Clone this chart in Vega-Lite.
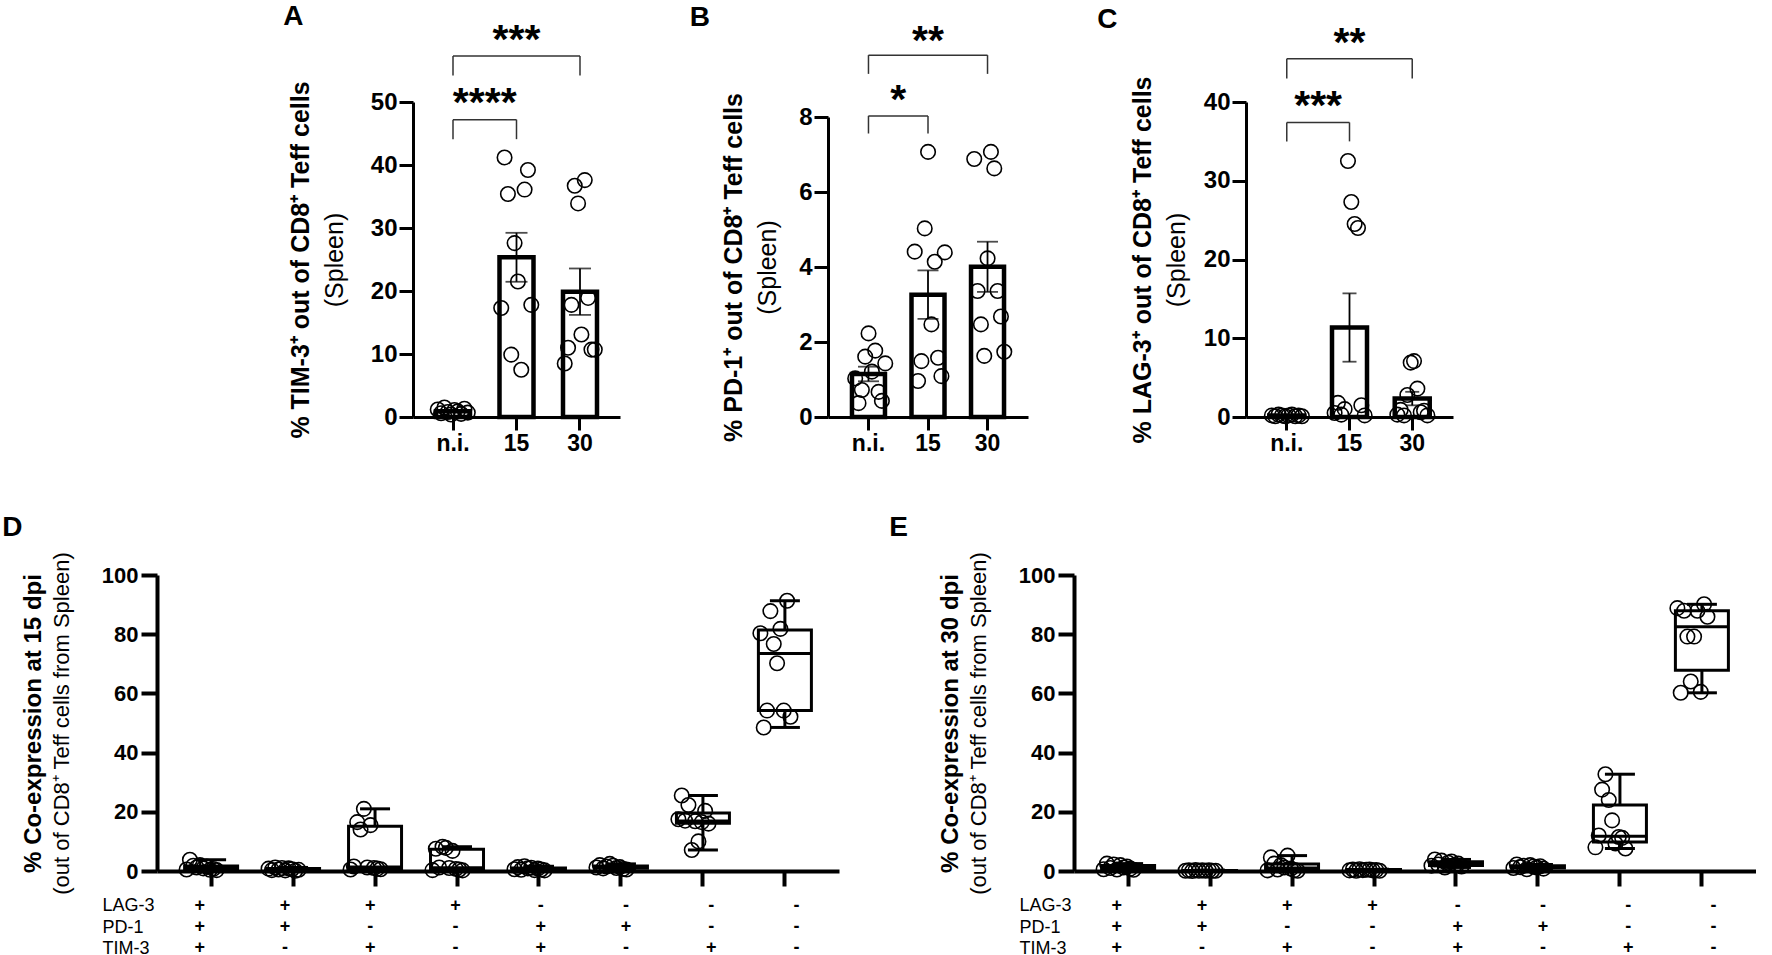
{
  "$schema": "https://vega.github.io/schema/vega-lite/v6.json",
  "background": "white",
  "padding": {"left": 2, "top": 2, "right": 0, "bottom": 0},
  "datasets": {
    "top": [
      {"panel": "A", "group": "n.i.", "mouse": 1, "value": 1.2},
      {"panel": "A", "group": "n.i.", "mouse": 2, "value": 0.6},
      {"panel": "A", "group": "n.i.", "mouse": 3, "value": 1.5},
      {"panel": "A", "group": "n.i.", "mouse": 4, "value": 0.8},
      {"panel": "A", "group": "n.i.", "mouse": 5, "value": 0.4},
      {"panel": "A", "group": "n.i.", "mouse": 6, "value": 1.1},
      {"panel": "A", "group": "n.i.", "mouse": 7, "value": 0.9},
      {"panel": "A", "group": "n.i.", "mouse": 8, "value": 0.5},
      {"panel": "A", "group": "n.i.", "mouse": 9, "value": 1.3},
      {"panel": "A", "group": "n.i.", "mouse": 10, "value": 0.7},
      {"panel": "A", "group": "15", "mouse": 1, "value": 17.3},
      {"panel": "A", "group": "15", "mouse": 2, "value": 41.2},
      {"panel": "A", "group": "15", "mouse": 3, "value": 35.4},
      {"panel": "A", "group": "15", "mouse": 4, "value": 9.9},
      {"panel": "A", "group": "15", "mouse": 5, "value": 27.6},
      {"panel": "A", "group": "15", "mouse": 6, "value": 21.5},
      {"panel": "A", "group": "15", "mouse": 7, "value": 7.5},
      {"panel": "A", "group": "15", "mouse": 8, "value": 36.1},
      {"panel": "A", "group": "15", "mouse": 9, "value": 39.2},
      {"panel": "A", "group": "15", "mouse": 10, "value": 17.8},
      {"panel": "A", "group": "30", "mouse": 1, "value": 8.5},
      {"panel": "A", "group": "30", "mouse": 2, "value": 11.0},
      {"panel": "A", "group": "30", "mouse": 3, "value": 17.8},
      {"panel": "A", "group": "30", "mouse": 4, "value": 36.7},
      {"panel": "A", "group": "30", "mouse": 5, "value": 33.9},
      {"panel": "A", "group": "30", "mouse": 6, "value": 13.1},
      {"panel": "A", "group": "30", "mouse": 7, "value": 37.6},
      {"panel": "A", "group": "30", "mouse": 8, "value": 18.9},
      {"panel": "A", "group": "30", "mouse": 9, "value": 10.7},
      {"panel": "A", "group": "30", "mouse": 10, "value": 10.7},
      {"panel": "B", "group": "n.i.", "mouse": 1, "value": 1.03},
      {"panel": "B", "group": "n.i.", "mouse": 2, "value": 0.37},
      {"panel": "B", "group": "n.i.", "mouse": 3, "value": 0.72},
      {"panel": "B", "group": "n.i.", "mouse": 4, "value": 1.61},
      {"panel": "B", "group": "n.i.", "mouse": 5, "value": 2.23},
      {"panel": "B", "group": "n.i.", "mouse": 6, "value": 1.21},
      {"panel": "B", "group": "n.i.", "mouse": 7, "value": 1.77},
      {"panel": "B", "group": "n.i.", "mouse": 8, "value": 0.67},
      {"panel": "B", "group": "n.i.", "mouse": 9, "value": 0.43},
      {"panel": "B", "group": "n.i.", "mouse": 10, "value": 1.43},
      {"panel": "B", "group": "15", "mouse": 1, "value": 4.41},
      {"panel": "B", "group": "15", "mouse": 2, "value": 0.96},
      {"panel": "B", "group": "15", "mouse": 3, "value": 1.49},
      {"panel": "B", "group": "15", "mouse": 4, "value": 5.03},
      {"panel": "B", "group": "15", "mouse": 5, "value": 7.07},
      {"panel": "B", "group": "15", "mouse": 6, "value": 2.47},
      {"panel": "B", "group": "15", "mouse": 7, "value": 4.14},
      {"panel": "B", "group": "15", "mouse": 8, "value": 1.58},
      {"panel": "B", "group": "15", "mouse": 9, "value": 1.09},
      {"panel": "B", "group": "15", "mouse": 10, "value": 4.39},
      {"panel": "B", "group": "30", "mouse": 1, "value": 6.88},
      {"panel": "B", "group": "30", "mouse": 2, "value": 3.36},
      {"panel": "B", "group": "30", "mouse": 3, "value": 2.47},
      {"panel": "B", "group": "30", "mouse": 4, "value": 1.63},
      {"panel": "B", "group": "30", "mouse": 5, "value": 4.23},
      {"panel": "B", "group": "30", "mouse": 6, "value": 7.07},
      {"panel": "B", "group": "30", "mouse": 7, "value": 6.63},
      {"panel": "B", "group": "30", "mouse": 8, "value": 3.36},
      {"panel": "B", "group": "30", "mouse": 9, "value": 2.68},
      {"panel": "B", "group": "30", "mouse": 10, "value": 1.74},
      {"panel": "C", "group": "n.i.", "mouse": 1, "value": 0.2},
      {"panel": "C", "group": "n.i.", "mouse": 2, "value": 0.1},
      {"panel": "C", "group": "n.i.", "mouse": 3, "value": 0.3},
      {"panel": "C", "group": "n.i.", "mouse": 4, "value": 0.2},
      {"panel": "C", "group": "n.i.", "mouse": 5, "value": 0.1},
      {"panel": "C", "group": "n.i.", "mouse": 6, "value": 0.2},
      {"panel": "C", "group": "n.i.", "mouse": 7, "value": 0.3},
      {"panel": "C", "group": "n.i.", "mouse": 8, "value": 0.1},
      {"panel": "C", "group": "n.i.", "mouse": 9, "value": 0.2},
      {"panel": "C", "group": "n.i.", "mouse": 10, "value": 0.1},
      {"panel": "C", "group": "15", "mouse": 1, "value": 0.5},
      {"panel": "C", "group": "15", "mouse": 2, "value": 1.8},
      {"panel": "C", "group": "15", "mouse": 3, "value": 0.3},
      {"panel": "C", "group": "15", "mouse": 4, "value": 1.0},
      {"panel": "C", "group": "15", "mouse": 5, "value": 32.5},
      {"panel": "C", "group": "15", "mouse": 6, "value": 27.3},
      {"panel": "C", "group": "15", "mouse": 7, "value": 24.5},
      {"panel": "C", "group": "15", "mouse": 8, "value": 24.0},
      {"panel": "C", "group": "15", "mouse": 9, "value": 1.5},
      {"panel": "C", "group": "15", "mouse": 10, "value": 0.2},
      {"panel": "C", "group": "30", "mouse": 1, "value": 0.3},
      {"panel": "C", "group": "30", "mouse": 2, "value": 0.9},
      {"panel": "C", "group": "30", "mouse": 3, "value": 0.2},
      {"panel": "C", "group": "30", "mouse": 4, "value": 2.8},
      {"panel": "C", "group": "30", "mouse": 5, "value": 6.9},
      {"panel": "C", "group": "30", "mouse": 6, "value": 7.1},
      {"panel": "C", "group": "30", "mouse": 7, "value": 3.6},
      {"panel": "C", "group": "30", "mouse": 8, "value": 0.6},
      {"panel": "C", "group": "30", "mouse": 9, "value": 0.8},
      {"panel": "C", "group": "30", "mouse": 10, "value": 0.2}
    ],
    "brackets": [
      {"panel": "A", "from": "n.i.", "to": "15", "top": 47.2, "bottom": 44.1, "stars": "****", "label_y": 47.8},
      {"panel": "A", "from": "n.i.", "to": "30", "top": 57.3, "bottom": 54.2, "stars": "***", "label_y": 57.8},
      {"panel": "B", "from": "n.i.", "to": "15", "top": 8.03, "bottom": 7.56, "stars": "*", "label_y": 8.1},
      {"panel": "B", "from": "n.i.", "to": "30", "top": 9.65, "bottom": 9.15, "stars": "**", "label_y": 9.68},
      {"panel": "C", "from": "n.i.", "to": "15", "top": 37.4, "bottom": 35.0, "stars": "***", "label_y": 37.9},
      {"panel": "C", "from": "n.i.", "to": "30", "top": 45.5, "bottom": 43.0, "stars": "**", "label_y": 45.9}
    ],
    "coexp": [
      {"dpi": 15, "combo": "+++", "mouse": 1, "value": 0.5},
      {"dpi": 15, "combo": "+++", "mouse": 2, "value": 3.8},
      {"dpi": 15, "combo": "+++", "mouse": 3, "value": 1.8},
      {"dpi": 15, "combo": "+++", "mouse": 4, "value": 1.2},
      {"dpi": 15, "combo": "+++", "mouse": 5, "value": 2.0},
      {"dpi": 15, "combo": "+++", "mouse": 6, "value": 0.9},
      {"dpi": 15, "combo": "+++", "mouse": 7, "value": 1.5},
      {"dpi": 15, "combo": "+++", "mouse": 8, "value": 0.4},
      {"dpi": 15, "combo": "+++", "mouse": 9, "value": 0.7},
      {"dpi": 15, "combo": "+++", "mouse": 10, "value": 0.3},
      {"dpi": 15, "combo": "++-", "mouse": 1, "value": 0.8},
      {"dpi": 15, "combo": "++-", "mouse": 2, "value": 0.3},
      {"dpi": 15, "combo": "++-", "mouse": 3, "value": 1.2},
      {"dpi": 15, "combo": "++-", "mouse": 4, "value": 0.5},
      {"dpi": 15, "combo": "++-", "mouse": 5, "value": 1.0},
      {"dpi": 15, "combo": "++-", "mouse": 6, "value": 0.2},
      {"dpi": 15, "combo": "++-", "mouse": 7, "value": 0.9},
      {"dpi": 15, "combo": "++-", "mouse": 8, "value": 0.6},
      {"dpi": 15, "combo": "++-", "mouse": 9, "value": 0.1},
      {"dpi": 15, "combo": "++-", "mouse": 10, "value": 0.4},
      {"dpi": 15, "combo": "+-+", "mouse": 1, "value": 0.5},
      {"dpi": 15, "combo": "+-+", "mouse": 2, "value": 1.5},
      {"dpi": 15, "combo": "+-+", "mouse": 3, "value": 16.5},
      {"dpi": 15, "combo": "+-+", "mouse": 4, "value": 14.0},
      {"dpi": 15, "combo": "+-+", "mouse": 5, "value": 21.0},
      {"dpi": 15, "combo": "+-+", "mouse": 6, "value": 1.2},
      {"dpi": 15, "combo": "+-+", "mouse": 7, "value": 15.5},
      {"dpi": 15, "combo": "+-+", "mouse": 8, "value": 1.0},
      {"dpi": 15, "combo": "+-+", "mouse": 9, "value": 0.8},
      {"dpi": 15, "combo": "+-+", "mouse": 10, "value": 0.6},
      {"dpi": 15, "combo": "+--", "mouse": 1, "value": 0.3},
      {"dpi": 15, "combo": "+--", "mouse": 2, "value": 7.5},
      {"dpi": 15, "combo": "+--", "mouse": 3, "value": 1.2},
      {"dpi": 15, "combo": "+--", "mouse": 4, "value": 8.2},
      {"dpi": 15, "combo": "+--", "mouse": 5, "value": 7.8},
      {"dpi": 15, "combo": "+--", "mouse": 6, "value": 1.0},
      {"dpi": 15, "combo": "+--", "mouse": 7, "value": 6.8},
      {"dpi": 15, "combo": "+--", "mouse": 8, "value": 0.7},
      {"dpi": 15, "combo": "+--", "mouse": 9, "value": 0.5},
      {"dpi": 15, "combo": "+--", "mouse": 10, "value": 0.2},
      {"dpi": 15, "combo": "-++", "mouse": 1, "value": 0.6},
      {"dpi": 15, "combo": "-++", "mouse": 2, "value": 1.3},
      {"dpi": 15, "combo": "-++", "mouse": 3, "value": 0.4},
      {"dpi": 15, "combo": "-++", "mouse": 4, "value": 1.6},
      {"dpi": 15, "combo": "-++", "mouse": 5, "value": 0.9},
      {"dpi": 15, "combo": "-++", "mouse": 6, "value": 1.1},
      {"dpi": 15, "combo": "-++", "mouse": 7, "value": 0.3},
      {"dpi": 15, "combo": "-++", "mouse": 8, "value": 0.8},
      {"dpi": 15, "combo": "-++", "mouse": 9, "value": 0.5},
      {"dpi": 15, "combo": "-++", "mouse": 10, "value": 0.2},
      {"dpi": 15, "combo": "-+-", "mouse": 1, "value": 1.2},
      {"dpi": 15, "combo": "-+-", "mouse": 2, "value": 2.0},
      {"dpi": 15, "combo": "-+-", "mouse": 3, "value": 0.9},
      {"dpi": 15, "combo": "-+-", "mouse": 4, "value": 1.5},
      {"dpi": 15, "combo": "-+-", "mouse": 5, "value": 2.4},
      {"dpi": 15, "combo": "-+-", "mouse": 6, "value": 1.8},
      {"dpi": 15, "combo": "-+-", "mouse": 7, "value": 1.0},
      {"dpi": 15, "combo": "-+-", "mouse": 8, "value": 1.3},
      {"dpi": 15, "combo": "-+-", "mouse": 9, "value": 0.7},
      {"dpi": 15, "combo": "-+-", "mouse": 10, "value": 0.5},
      {"dpi": 15, "combo": "--+", "mouse": 1, "value": 17.5},
      {"dpi": 15, "combo": "--+", "mouse": 2, "value": 25.5},
      {"dpi": 15, "combo": "--+", "mouse": 3, "value": 17.0},
      {"dpi": 15, "combo": "--+", "mouse": 4, "value": 22.3},
      {"dpi": 15, "combo": "--+", "mouse": 5, "value": 7.1},
      {"dpi": 15, "combo": "--+", "mouse": 6, "value": 16.8},
      {"dpi": 15, "combo": "--+", "mouse": 7, "value": 10.0},
      {"dpi": 15, "combo": "--+", "mouse": 8, "value": 16.5},
      {"dpi": 15, "combo": "--+", "mouse": 9, "value": 20.3},
      {"dpi": 15, "combo": "--+", "mouse": 10, "value": 16.0},
      {"dpi": 15, "combo": "---", "mouse": 1, "value": 80.3},
      {"dpi": 15, "combo": "---", "mouse": 2, "value": 48.5},
      {"dpi": 15, "combo": "---", "mouse": 3, "value": 54.2},
      {"dpi": 15, "combo": "---", "mouse": 4, "value": 87.8},
      {"dpi": 15, "combo": "---", "mouse": 5, "value": 76.7},
      {"dpi": 15, "combo": "---", "mouse": 6, "value": 70.2},
      {"dpi": 15, "combo": "---", "mouse": 7, "value": 81.8},
      {"dpi": 15, "combo": "---", "mouse": 8, "value": 54.2},
      {"dpi": 15, "combo": "---", "mouse": 9, "value": 91.3},
      {"dpi": 15, "combo": "---", "mouse": 10, "value": 52.1},
      {"dpi": 30, "combo": "+++", "mouse": 1, "value": 0.6},
      {"dpi": 30, "combo": "+++", "mouse": 2, "value": 2.5},
      {"dpi": 30, "combo": "+++", "mouse": 3, "value": 1.0},
      {"dpi": 30, "combo": "+++", "mouse": 4, "value": 2.2},
      {"dpi": 30, "combo": "+++", "mouse": 5, "value": 0.5},
      {"dpi": 30, "combo": "+++", "mouse": 6, "value": 2.0},
      {"dpi": 30, "combo": "+++", "mouse": 7, "value": 1.2},
      {"dpi": 30, "combo": "+++", "mouse": 8, "value": 1.5},
      {"dpi": 30, "combo": "+++", "mouse": 9, "value": 0.8},
      {"dpi": 30, "combo": "+++", "mouse": 10, "value": 0.4},
      {"dpi": 30, "combo": "++-", "mouse": 1, "value": 0.1},
      {"dpi": 30, "combo": "++-", "mouse": 2, "value": 0.2},
      {"dpi": 30, "combo": "++-", "mouse": 3, "value": 0.0},
      {"dpi": 30, "combo": "++-", "mouse": 4, "value": 0.3},
      {"dpi": 30, "combo": "++-", "mouse": 5, "value": 0.1},
      {"dpi": 30, "combo": "++-", "mouse": 6, "value": 0.2},
      {"dpi": 30, "combo": "++-", "mouse": 7, "value": 0.1},
      {"dpi": 30, "combo": "++-", "mouse": 8, "value": 0.2},
      {"dpi": 30, "combo": "++-", "mouse": 9, "value": 0.1},
      {"dpi": 30, "combo": "++-", "mouse": 10, "value": 0.1},
      {"dpi": 30, "combo": "+-+", "mouse": 1, "value": 0.2},
      {"dpi": 30, "combo": "+-+", "mouse": 2, "value": 4.6},
      {"dpi": 30, "combo": "+-+", "mouse": 3, "value": 2.5},
      {"dpi": 30, "combo": "+-+", "mouse": 4, "value": 0.5},
      {"dpi": 30, "combo": "+-+", "mouse": 5, "value": 2.0},
      {"dpi": 30, "combo": "+-+", "mouse": 6, "value": 1.2},
      {"dpi": 30, "combo": "+-+", "mouse": 7, "value": 5.2},
      {"dpi": 30, "combo": "+-+", "mouse": 8, "value": 0.8},
      {"dpi": 30, "combo": "+-+", "mouse": 9, "value": 0.3},
      {"dpi": 30, "combo": "+-+", "mouse": 10, "value": 0.1},
      {"dpi": 30, "combo": "+--", "mouse": 1, "value": 0.2},
      {"dpi": 30, "combo": "+--", "mouse": 2, "value": 0.5},
      {"dpi": 30, "combo": "+--", "mouse": 3, "value": 0.1},
      {"dpi": 30, "combo": "+--", "mouse": 4, "value": 0.6},
      {"dpi": 30, "combo": "+--", "mouse": 5, "value": 0.3},
      {"dpi": 30, "combo": "+--", "mouse": 6, "value": 0.4},
      {"dpi": 30, "combo": "+--", "mouse": 7, "value": 0.5},
      {"dpi": 30, "combo": "+--", "mouse": 8, "value": 0.2},
      {"dpi": 30, "combo": "+--", "mouse": 9, "value": 0.3},
      {"dpi": 30, "combo": "+--", "mouse": 10, "value": 0.1},
      {"dpi": 30, "combo": "-++", "mouse": 1, "value": 1.8},
      {"dpi": 30, "combo": "-++", "mouse": 2, "value": 3.9},
      {"dpi": 30, "combo": "-++", "mouse": 3, "value": 2.2},
      {"dpi": 30, "combo": "-++", "mouse": 4, "value": 3.5},
      {"dpi": 30, "combo": "-++", "mouse": 5, "value": 1.2},
      {"dpi": 30, "combo": "-++", "mouse": 6, "value": 2.8},
      {"dpi": 30, "combo": "-++", "mouse": 7, "value": 3.2},
      {"dpi": 30, "combo": "-++", "mouse": 8, "value": 2.0},
      {"dpi": 30, "combo": "-++", "mouse": 9, "value": 2.5},
      {"dpi": 30, "combo": "-++", "mouse": 10, "value": 1.5},
      {"dpi": 30, "combo": "-+-", "mouse": 1, "value": 1.0},
      {"dpi": 30, "combo": "-+-", "mouse": 2, "value": 2.2},
      {"dpi": 30, "combo": "-+-", "mouse": 3, "value": 1.3},
      {"dpi": 30, "combo": "-+-", "mouse": 4, "value": 1.8},
      {"dpi": 30, "combo": "-+-", "mouse": 5, "value": 0.6},
      {"dpi": 30, "combo": "-+-", "mouse": 6, "value": 2.0},
      {"dpi": 30, "combo": "-+-", "mouse": 7, "value": 1.5},
      {"dpi": 30, "combo": "-+-", "mouse": 8, "value": 1.2},
      {"dpi": 30, "combo": "-+-", "mouse": 9, "value": 1.6},
      {"dpi": 30, "combo": "-+-", "mouse": 10, "value": 0.8},
      {"dpi": 30, "combo": "--+", "mouse": 1, "value": 8.0},
      {"dpi": 30, "combo": "--+", "mouse": 2, "value": 12.0},
      {"dpi": 30, "combo": "--+", "mouse": 3, "value": 27.5},
      {"dpi": 30, "combo": "--+", "mouse": 4, "value": 32.7},
      {"dpi": 30, "combo": "--+", "mouse": 5, "value": 24.0},
      {"dpi": 30, "combo": "--+", "mouse": 6, "value": 17.1},
      {"dpi": 30, "combo": "--+", "mouse": 7, "value": 9.3},
      {"dpi": 30, "combo": "--+", "mouse": 8, "value": 11.5},
      {"dpi": 30, "combo": "--+", "mouse": 9, "value": 11.2},
      {"dpi": 30, "combo": "--+", "mouse": 10, "value": 7.6},
      {"dpi": 30, "combo": "---", "mouse": 1, "value": 88.8},
      {"dpi": 30, "combo": "---", "mouse": 2, "value": 60.2},
      {"dpi": 30, "combo": "---", "mouse": 3, "value": 87.9},
      {"dpi": 30, "combo": "---", "mouse": 4, "value": 79.2},
      {"dpi": 30, "combo": "---", "mouse": 5, "value": 64.0},
      {"dpi": 30, "combo": "---", "mouse": 6, "value": 79.2},
      {"dpi": 30, "combo": "---", "mouse": 7, "value": 87.9},
      {"dpi": 30, "combo": "---", "mouse": 8, "value": 60.5},
      {"dpi": 30, "combo": "---", "mouse": 9, "value": 90.1},
      {"dpi": 30, "combo": "---", "mouse": 10, "value": 85.9}
    ],
    "markers": [
      {"combo": "+++", "marker": "LAG-3", "state": "+"},
      {"combo": "+++", "marker": "PD-1", "state": "+"},
      {"combo": "+++", "marker": "TIM-3", "state": "+"},
      {"combo": "++-", "marker": "LAG-3", "state": "+"},
      {"combo": "++-", "marker": "PD-1", "state": "+"},
      {"combo": "++-", "marker": "TIM-3", "state": "-"},
      {"combo": "+-+", "marker": "LAG-3", "state": "+"},
      {"combo": "+-+", "marker": "PD-1", "state": "-"},
      {"combo": "+-+", "marker": "TIM-3", "state": "+"},
      {"combo": "+--", "marker": "LAG-3", "state": "+"},
      {"combo": "+--", "marker": "PD-1", "state": "-"},
      {"combo": "+--", "marker": "TIM-3", "state": "-"},
      {"combo": "-++", "marker": "LAG-3", "state": "-"},
      {"combo": "-++", "marker": "PD-1", "state": "+"},
      {"combo": "-++", "marker": "TIM-3", "state": "+"},
      {"combo": "-+-", "marker": "LAG-3", "state": "-"},
      {"combo": "-+-", "marker": "PD-1", "state": "+"},
      {"combo": "-+-", "marker": "TIM-3", "state": "-"},
      {"combo": "--+", "marker": "LAG-3", "state": "-"},
      {"combo": "--+", "marker": "PD-1", "state": "-"},
      {"combo": "--+", "marker": "TIM-3", "state": "+"},
      {"combo": "---", "marker": "LAG-3", "state": "-"},
      {"combo": "---", "marker": "PD-1", "state": "-"},
      {"combo": "---", "marker": "TIM-3", "state": "-"}
    ]
  },
  "spacing": 58,
  "vconcat": [
    {
      "spacing": 69,
      "hconcat": [
        {
          "width": 57,
          "height": 10,
          "data": {"values": []},
          "mark": "point"
        },
        {
          "width": 207,
          "height": 315,
          "title": {"text": "A", "dx": -5, "offset": -11},
          "resolve": {"axis": {"y": "independent"}},
          "layer": [
            {
              "data": {"name": "top"},
              "transform": [{"filter": "datum.panel == 'A'"}],
              "mark": {"type": "bar", "width": 34, "fill": "white", "stroke": "black", "strokeWidth": 4.5},
              "encoding": {
                "x": {"field": "group", "type": "nominal", "scale": {"domain": ["n.i.", "15", "30"], "paddingInner": 0, "paddingOuter": 0.13}, "axis": {"title": null, "labelAngle": 0, "labelFontSize": 23, "labelPadding": 2, "tickSize": 13, "tickWidth": 3, "domainWidth": 3}},
                "y": {"aggregate": "mean", "field": "value", "type": "quantitative", "scale": {"domain": [0, 50]}, "axis": {"orient": "left", "title": "% TIM-3⁺ out of CD8⁺ Teff cells", "titleFontSize": 25, "titleFontWeight": "bold", "titlePadding": 57, "values": [0, 10, 20, 30, 40, 50], "labelFontSize": 24, "labelPadding": 2, "tickSize": 14, "tickWidth": 3, "domainWidth": 3}}
              }
            },
            {
              "data": {"name": "top"},
              "transform": [{"filter": "datum.panel == 'A'"}],
              "mark": {"type": "errorbar", "extent": "stderr", "ticks": {"size": 22, "thickness": 1.8, "color": "black"}, "rule": {"strokeWidth": 1.8, "color": "black"}, "size": 22, "thickness": 1.8, "color": "black"},
              "encoding": {
                "x": {"field": "group", "type": "nominal", "scale": {"domain": ["n.i.", "15", "30"], "paddingInner": 0, "paddingOuter": 0.13}, "axis": {"title": null, "labelAngle": 0, "labelFontSize": 23, "labelPadding": 2, "tickSize": 13, "tickWidth": 3, "domainWidth": 3}},
                "y": {"field": "value", "type": "quantitative", "scale": {"domain": [0, 50]}, "axis": null}
              }
            },
            {
              "data": {"name": "top"},
              "transform": [{"filter": "datum.panel == 'A'"}],
              "mark": {"type": "point", "shape": "circle", "filled": false, "size": 210, "strokeWidth": 1.6, "color": "black", "opacity": 1},
              "encoding": {
                "x": {"field": "group", "type": "nominal", "scale": {"domain": ["n.i.", "15", "30"], "paddingInner": 0, "paddingOuter": 0.13}, "axis": {"title": null, "labelAngle": 0, "labelFontSize": 23, "labelPadding": 2, "tickSize": 13, "tickWidth": 3, "domainWidth": 3}},
                "xOffset": {"field": "mouse", "type": "nominal", "scale": {"range": [14.8, 48.2]}},
                "y": {"field": "value", "type": "quantitative", "scale": {"domain": [0, 50]}, "axis": {"orient": "left", "title": "(Spleen)", "titleFontSize": 25, "titleFontWeight": "normal", "titlePadding": 23, "values": [0, 10, 20, 30, 40, 50], "labelFontSize": 24, "labelPadding": 2, "labelOpacity": 0, "tickSize": 14, "tickOpacity": 0, "domain": false}}
              }
            },
            {
              "data": {"name": "brackets"},
              "transform": [{"filter": "datum.panel == 'A'"}],
              "mark": {"type": "rule", "strokeWidth": 1.5, "color": "#333"},
              "encoding": {
                "x": {"field": "from", "type": "nominal", "scale": {"domain": ["n.i.", "15", "30"], "paddingInner": 0, "paddingOuter": 0.13}, "axis": {"title": null, "labelAngle": 0, "labelFontSize": 23, "labelPadding": 2, "tickSize": 13, "tickWidth": 3, "domainWidth": 3}},
                "x2": {"field": "to"},
                "y": {"field": "top", "type": "quantitative", "scale": {"domain": [0, 50]}, "axis": null}
              }
            },
            {
              "data": {"name": "brackets"},
              "transform": [{"filter": "datum.panel == 'A'"}],
              "mark": {"type": "rule", "strokeWidth": 1.5, "color": "#333"},
              "encoding": {
                "x": {"field": "from", "type": "nominal", "scale": {"domain": ["n.i.", "15", "30"], "paddingInner": 0, "paddingOuter": 0.13}, "axis": {"title": null, "labelAngle": 0, "labelFontSize": 23, "labelPadding": 2, "tickSize": 13, "tickWidth": 3, "domainWidth": 3}},
                "y": {"field": "top", "type": "quantitative", "scale": {"domain": [0, 50]}, "axis": null},
                "y2": {"field": "bottom"}
              }
            },
            {
              "data": {"name": "brackets"},
              "transform": [{"filter": "datum.panel == 'A'"}],
              "mark": {"type": "rule", "strokeWidth": 1.5, "color": "#333"},
              "encoding": {
                "x": {"field": "to", "type": "nominal", "scale": {"domain": ["n.i.", "15", "30"], "paddingInner": 0, "paddingOuter": 0.13}, "axis": {"title": null, "labelAngle": 0, "labelFontSize": 23, "labelPadding": 2, "tickSize": 13, "tickWidth": 3, "domainWidth": 3}},
                "y": {"field": "top", "type": "quantitative", "scale": {"domain": [0, 50]}, "axis": null},
                "y2": {"field": "bottom"}
              }
            },
            {
              "data": {"name": "brackets"},
              "transform": [{"filter": "datum.panel == 'A' && datum.to == '15'"}],
              "mark": {"type": "text", "fontSize": 41, "fontWeight": "bold", "baseline": "alphabetic", "align": "center"},
              "encoding": {
                "x": {"field": "from", "type": "nominal", "bandPosition": 1, "scale": {"domain": ["n.i.", "15", "30"], "paddingInner": 0, "paddingOuter": 0.13}, "axis": {"title": null, "labelAngle": 0, "labelFontSize": 23, "labelPadding": 2, "tickSize": 13, "tickWidth": 3, "domainWidth": 3}},
                "y": {"field": "label_y", "type": "quantitative", "scale": {"domain": [0, 50]}, "axis": null},
                "text": {"field": "stars"}
              }
            },
            {
              "data": {"name": "brackets"},
              "transform": [{"filter": "datum.panel == 'A' && datum.to == '30'"}],
              "mark": {"type": "text", "fontSize": 41, "fontWeight": "bold", "baseline": "alphabetic", "align": "center"},
              "encoding": {
                "x": {"field": "from", "type": "nominal", "bandPosition": 1.5, "scale": {"domain": ["n.i.", "15", "30"], "paddingInner": 0, "paddingOuter": 0.13}, "axis": {"title": null, "labelAngle": 0, "labelFontSize": 23, "labelPadding": 2, "tickSize": 13, "tickWidth": 3, "domainWidth": 3}},
                "y": {"field": "label_y", "type": "quantitative", "scale": {"domain": [0, 50]}, "axis": null},
                "text": {"field": "stars"}
              }
            }
          ]
        },
        {
          "width": 200,
          "height": 315,
          "title": {"text": "B", "dx": -32, "offset": -11},
          "resolve": {"axis": {"y": "independent"}},
          "layer": [
            {
              "data": {"name": "top"},
              "transform": [{"filter": "datum.panel == 'B'"}],
              "mark": {"type": "bar", "width": 33, "fill": "white", "stroke": "black", "strokeWidth": 4.5},
              "encoding": {
                "x": {"field": "group", "type": "nominal", "scale": {"domain": ["n.i.", "15", "30"], "paddingInner": 0, "paddingOuter": 0.18}, "axis": {"title": null, "labelAngle": 0, "labelFontSize": 23, "labelPadding": 2, "tickSize": 13, "tickWidth": 3, "domainWidth": 3}},
                "y": {"aggregate": "mean", "field": "value", "type": "quantitative", "scale": {"domain": [0, 8], "range": [315, 15]}, "axis": {"orient": "left", "title": "% PD-1⁺ out of CD8⁺ Teff cells", "titleFontSize": 25, "titleFontWeight": "bold", "titlePadding": 52, "values": [0, 2, 4, 6, 8], "labelFontSize": 24, "labelPadding": 2, "tickSize": 14, "tickWidth": 3, "domainWidth": 3}}
              }
            },
            {
              "data": {"name": "top"},
              "transform": [{"filter": "datum.panel == 'B'"}],
              "mark": {"type": "errorbar", "extent": "stderr", "ticks": {"size": 21, "thickness": 1.8, "color": "black"}, "rule": {"strokeWidth": 1.8, "color": "black"}, "size": 21, "thickness": 1.8, "color": "black"},
              "encoding": {
                "x": {"field": "group", "type": "nominal", "scale": {"domain": ["n.i.", "15", "30"], "paddingInner": 0, "paddingOuter": 0.18}, "axis": {"title": null, "labelAngle": 0, "labelFontSize": 23, "labelPadding": 2, "tickSize": 13, "tickWidth": 3, "domainWidth": 3}},
                "y": {"field": "value", "type": "quantitative", "scale": {"domain": [0, 8], "range": [315, 15]}, "axis": null}
              }
            },
            {
              "data": {"name": "top"},
              "transform": [{"filter": "datum.panel == 'B'"}],
              "mark": {"type": "point", "shape": "circle", "filled": false, "size": 210, "strokeWidth": 1.6, "color": "black", "opacity": 1},
              "encoding": {
                "x": {"field": "group", "type": "nominal", "scale": {"domain": ["n.i.", "15", "30"], "paddingInner": 0, "paddingOuter": 0.18}, "axis": {"title": null, "labelAngle": 0, "labelFontSize": 23, "labelPadding": 2, "tickSize": 13, "tickWidth": 3, "domainWidth": 3}},
                "xOffset": {"field": "mouse", "type": "nominal", "scale": {"range": [13.1, 46.4]}},
                "y": {"field": "value", "type": "quantitative", "scale": {"domain": [0, 8], "range": [315, 15]}, "axis": {"orient": "left", "title": "(Spleen)", "titleFontSize": 25, "titleFontWeight": "normal", "titlePadding": 18, "values": [0, 2, 4, 6, 8], "labelFontSize": 24, "labelPadding": 2, "labelOpacity": 0, "tickSize": 14, "tickOpacity": 0, "domain": false}}
              }
            },
            {
              "data": {"name": "brackets"},
              "transform": [{"filter": "datum.panel == 'B'"}],
              "mark": {"type": "rule", "strokeWidth": 1.5, "color": "#333"},
              "encoding": {
                "x": {"field": "from", "type": "nominal", "scale": {"domain": ["n.i.", "15", "30"], "paddingInner": 0, "paddingOuter": 0.18}, "axis": {"title": null, "labelAngle": 0, "labelFontSize": 23, "labelPadding": 2, "tickSize": 13, "tickWidth": 3, "domainWidth": 3}},
                "x2": {"field": "to"},
                "y": {"field": "top", "type": "quantitative", "scale": {"domain": [0, 8], "range": [315, 15]}, "axis": null}
              }
            },
            {
              "data": {"name": "brackets"},
              "transform": [{"filter": "datum.panel == 'B'"}],
              "mark": {"type": "rule", "strokeWidth": 1.5, "color": "#333"},
              "encoding": {
                "x": {"field": "from", "type": "nominal", "scale": {"domain": ["n.i.", "15", "30"], "paddingInner": 0, "paddingOuter": 0.18}, "axis": {"title": null, "labelAngle": 0, "labelFontSize": 23, "labelPadding": 2, "tickSize": 13, "tickWidth": 3, "domainWidth": 3}},
                "y": {"field": "top", "type": "quantitative", "scale": {"domain": [0, 8], "range": [315, 15]}, "axis": null},
                "y2": {"field": "bottom"}
              }
            },
            {
              "data": {"name": "brackets"},
              "transform": [{"filter": "datum.panel == 'B'"}],
              "mark": {"type": "rule", "strokeWidth": 1.5, "color": "#333"},
              "encoding": {
                "x": {"field": "to", "type": "nominal", "scale": {"domain": ["n.i.", "15", "30"], "paddingInner": 0, "paddingOuter": 0.18}, "axis": {"title": null, "labelAngle": 0, "labelFontSize": 23, "labelPadding": 2, "tickSize": 13, "tickWidth": 3, "domainWidth": 3}},
                "y": {"field": "top", "type": "quantitative", "scale": {"domain": [0, 8], "range": [315, 15]}, "axis": null},
                "y2": {"field": "bottom"}
              }
            },
            {
              "data": {"name": "brackets"},
              "transform": [{"filter": "datum.panel == 'B' && datum.to == '15'"}],
              "mark": {"type": "text", "fontSize": 41, "fontWeight": "bold", "baseline": "alphabetic", "align": "center"},
              "encoding": {
                "x": {"field": "from", "type": "nominal", "bandPosition": 1, "scale": {"domain": ["n.i.", "15", "30"], "paddingInner": 0, "paddingOuter": 0.18}, "axis": {"title": null, "labelAngle": 0, "labelFontSize": 23, "labelPadding": 2, "tickSize": 13, "tickWidth": 3, "domainWidth": 3}},
                "y": {"field": "label_y", "type": "quantitative", "scale": {"domain": [0, 8], "range": [315, 15]}, "axis": null},
                "text": {"field": "stars"}
              }
            },
            {
              "data": {"name": "brackets"},
              "transform": [{"filter": "datum.panel == 'B' && datum.to == '30'"}],
              "mark": {"type": "text", "fontSize": 41, "fontWeight": "bold", "baseline": "alphabetic", "align": "center"},
              "encoding": {
                "x": {"field": "from", "type": "nominal", "bandPosition": 1.5, "scale": {"domain": ["n.i.", "15", "30"], "paddingInner": 0, "paddingOuter": 0.18}, "axis": {"title": null, "labelAngle": 0, "labelFontSize": 23, "labelPadding": 2, "tickSize": 13, "tickWidth": 3, "domainWidth": 3}},
                "y": {"field": "label_y", "type": "quantitative", "scale": {"domain": [0, 8], "range": [315, 15]}, "axis": null},
                "text": {"field": "stars"}
              }
            }
          ]
        },
        {
          "width": 207,
          "height": 315,
          "title": {"text": "C", "dx": -33, "offset": -11},
          "resolve": {"axis": {"y": "independent"}},
          "layer": [
            {
              "data": {"name": "top"},
              "transform": [{"filter": "datum.panel == 'C'"}],
              "mark": {"type": "bar", "width": 35, "fill": "white", "stroke": "black", "strokeWidth": 4.5},
              "encoding": {
                "x": {"field": "group", "type": "nominal", "scale": {"domain": ["n.i.", "15", "30"], "paddingInner": 0, "paddingOuter": 0.15}, "axis": {"title": null, "labelAngle": 0, "labelFontSize": 23, "labelPadding": 2, "tickSize": 13, "tickWidth": 3, "domainWidth": 3}},
                "y": {"aggregate": "mean", "field": "value", "type": "quantitative", "scale": {"domain": [0, 40]}, "axis": {"orient": "left", "title": "% LAG-3⁺ out of CD8⁺ Teff cells", "titleFontSize": 25, "titleFontWeight": "bold", "titlePadding": 48, "values": [0, 10, 20, 30, 40], "labelFontSize": 24, "labelPadding": 2, "tickSize": 14, "tickWidth": 3, "domainWidth": 3}}
              }
            },
            {
              "data": {"name": "top"},
              "transform": [{"filter": "datum.panel == 'C'"}],
              "mark": {"type": "errorbar", "extent": "stderr", "ticks": {"size": 14, "thickness": 1.8, "color": "black"}, "rule": {"strokeWidth": 1.8, "color": "black"}, "size": 14, "thickness": 1.8, "color": "black"},
              "encoding": {
                "x": {"field": "group", "type": "nominal", "scale": {"domain": ["n.i.", "15", "30"], "paddingInner": 0, "paddingOuter": 0.15}, "axis": {"title": null, "labelAngle": 0, "labelFontSize": 23, "labelPadding": 2, "tickSize": 13, "tickWidth": 3, "domainWidth": 3}},
                "y": {"field": "value", "type": "quantitative", "scale": {"domain": [0, 40]}, "axis": null}
              }
            },
            {
              "data": {"name": "top"},
              "transform": [{"filter": "datum.panel == 'C'"}],
              "mark": {"type": "point", "shape": "circle", "filled": false, "size": 210, "strokeWidth": 1.6, "color": "black", "opacity": 1},
              "encoding": {
                "x": {"field": "group", "type": "nominal", "scale": {"domain": ["n.i.", "15", "30"], "paddingInner": 0, "paddingOuter": 0.15}, "axis": {"title": null, "labelAngle": 0, "labelFontSize": 23, "labelPadding": 2, "tickSize": 13, "tickWidth": 3, "domainWidth": 3}},
                "xOffset": {"field": "mouse", "type": "nominal", "scale": {"range": [14.6, 47.9]}},
                "y": {"field": "value", "type": "quantitative", "scale": {"domain": [0, 40]}, "axis": {"orient": "left", "title": "(Spleen)", "titleFontSize": 25, "titleFontWeight": "normal", "titlePadding": 14, "values": [0, 10, 20, 30, 40], "labelFontSize": 24, "labelPadding": 2, "labelOpacity": 0, "tickSize": 14, "tickOpacity": 0, "domain": false}}
              }
            },
            {
              "data": {"name": "brackets"},
              "transform": [{"filter": "datum.panel == 'C'"}],
              "mark": {"type": "rule", "strokeWidth": 1.5, "color": "#333"},
              "encoding": {
                "x": {"field": "from", "type": "nominal", "scale": {"domain": ["n.i.", "15", "30"], "paddingInner": 0, "paddingOuter": 0.15}, "axis": {"title": null, "labelAngle": 0, "labelFontSize": 23, "labelPadding": 2, "tickSize": 13, "tickWidth": 3, "domainWidth": 3}},
                "x2": {"field": "to"},
                "y": {"field": "top", "type": "quantitative", "scale": {"domain": [0, 40]}, "axis": null}
              }
            },
            {
              "data": {"name": "brackets"},
              "transform": [{"filter": "datum.panel == 'C'"}],
              "mark": {"type": "rule", "strokeWidth": 1.5, "color": "#333"},
              "encoding": {
                "x": {"field": "from", "type": "nominal", "scale": {"domain": ["n.i.", "15", "30"], "paddingInner": 0, "paddingOuter": 0.15}, "axis": {"title": null, "labelAngle": 0, "labelFontSize": 23, "labelPadding": 2, "tickSize": 13, "tickWidth": 3, "domainWidth": 3}},
                "y": {"field": "top", "type": "quantitative", "scale": {"domain": [0, 40]}, "axis": null},
                "y2": {"field": "bottom"}
              }
            },
            {
              "data": {"name": "brackets"},
              "transform": [{"filter": "datum.panel == 'C'"}],
              "mark": {"type": "rule", "strokeWidth": 1.5, "color": "#333"},
              "encoding": {
                "x": {"field": "to", "type": "nominal", "scale": {"domain": ["n.i.", "15", "30"], "paddingInner": 0, "paddingOuter": 0.15}, "axis": {"title": null, "labelAngle": 0, "labelFontSize": 23, "labelPadding": 2, "tickSize": 13, "tickWidth": 3, "domainWidth": 3}},
                "y": {"field": "top", "type": "quantitative", "scale": {"domain": [0, 40]}, "axis": null},
                "y2": {"field": "bottom"}
              }
            },
            {
              "data": {"name": "brackets"},
              "transform": [{"filter": "datum.panel == 'C' && datum.to == '15'"}],
              "mark": {"type": "text", "fontSize": 41, "fontWeight": "bold", "baseline": "alphabetic", "align": "center"},
              "encoding": {
                "x": {"field": "from", "type": "nominal", "bandPosition": 1, "scale": {"domain": ["n.i.", "15", "30"], "paddingInner": 0, "paddingOuter": 0.15}, "axis": {"title": null, "labelAngle": 0, "labelFontSize": 23, "labelPadding": 2, "tickSize": 13, "tickWidth": 3, "domainWidth": 3}},
                "y": {"field": "label_y", "type": "quantitative", "scale": {"domain": [0, 40]}, "axis": null},
                "text": {"field": "stars"}
              }
            },
            {
              "data": {"name": "brackets"},
              "transform": [{"filter": "datum.panel == 'C' && datum.to == '30'"}],
              "mark": {"type": "text", "fontSize": 41, "fontWeight": "bold", "baseline": "alphabetic", "align": "center"},
              "encoding": {
                "x": {"field": "from", "type": "nominal", "bandPosition": 1.5, "scale": {"domain": ["n.i.", "15", "30"], "paddingInner": 0, "paddingOuter": 0.15}, "axis": {"title": null, "labelAngle": 0, "labelFontSize": 23, "labelPadding": 2, "tickSize": 13, "tickWidth": 3, "domainWidth": 3}},
                "y": {"field": "label_y", "type": "quantitative", "scale": {"domain": [0, 40]}, "axis": null},
                "text": {"field": "stars"}
              }
            }
          ]
        }
      ]
    },
    {
      "spacing": 50,
      "hconcat": [
        {
          "spacing": 0,
          "vconcat": [
            {
              "width": 682,
              "height": 296,
              "title": {"text": "D", "dx": -19, "offset": 10},
              "resolve": {"axis": {"y": "independent"}},
              "layer": [
                {
                  "data": {"name": "coexp"},
                  "transform": [{"filter": "datum.dpi == 15"}],
                  "mark": {"type": "boxplot", "extent": "min-max", "size": 53, "box": {"fill": "white", "stroke": "black", "strokeWidth": 3}, "median": {"color": "black", "thickness": 3, "opacity": 1}, "rule": {"color": "black", "strokeWidth": 3}, "ticks": {"color": "black", "size": 30, "thickness": 3}},
                  "encoding": {
                    "x": {"field": "combo", "type": "nominal", "scale": {"domain": ["+++", "++-", "+-+", "+--", "-++", "-+-", "--+", "---"], "paddingInner": 0, "paddingOuter": 0.16}, "axis": {"title": null, "labels": false, "tickSize": 15, "tickWidth": 4, "domainWidth": 4}},
                    "y": {"field": "value", "type": "quantitative", "scale": {"domain": [0, 100]}, "axis": {"orient": "left", "title": "% Co-expression at 15 dpi", "titleFontSize": 24, "titleFontWeight": "bold", "titlePadding": 56, "values": [0, 20, 40, 60, 80, 100], "labelFontSize": 22, "labelPadding": 3, "tickSize": 16, "tickWidth": 4, "domainWidth": 4}}
                  }
                },
                {
                  "data": {"name": "coexp"},
                  "transform": [{"filter": "datum.dpi == 15"}],
                  "mark": {"type": "point", "shape": "circle", "filled": false, "size": 210, "strokeWidth": 1.6, "color": "black", "opacity": 1},
                  "encoding": {
                    "x": {"field": "combo", "type": "nominal", "scale": {"domain": ["+++", "++-", "+-+", "+--", "-++", "-+-", "--+", "---"], "paddingInner": 0, "paddingOuter": 0.16}, "axis": {"title": null, "labels": false, "tickSize": 15, "tickWidth": 4, "domainWidth": 4}},
                    "xOffset": {"field": "mouse", "type": "nominal", "scale": {"range": [14.3, 67.7]}},
                    "y": {"field": "value", "type": "quantitative", "scale": {"domain": [0, 100]}, "axis": {"orient": "left", "title": "(out of CD8⁺ Teff cells from Spleen)", "titleFontSize": 22, "titleFontWeight": "normal", "titlePadding": 28, "values": [0, 20, 40, 60, 80, 100], "labelFontSize": 22, "labelPadding": 3, "labelOpacity": 0, "tickSize": 16, "tickOpacity": 0, "domain": false}}
                  }
                }
              ]
            },
            {
              "width": 682,
              "height": 64,
              "data": {"name": "markers"},
              "mark": {"type": "text", "fontSize": 18, "fontWeight": "bold"},
              "encoding": {
                "x": {"field": "combo", "type": "nominal", "scale": {"domain": ["+++", "++-", "+-+", "+--", "-++", "-+-", "--+", "---"], "paddingInner": 0, "paddingOuter": 0.16}, "axis": null},
                "y": {"field": "marker", "type": "nominal", "scale": {"domain": ["LAG-3", "PD-1", "TIM-3"], "paddingInner": 0, "paddingOuter": 0}, "axis": {"title": null, "domain": false, "ticks": false, "tickSize": 0, "labelAlign": "left", "labelPadding": 55, "labelFontSize": 18, "labelFontWeight": "normal"}},
                "text": {"field": "state"}
              }
            }
          ]
        },
        {
          "spacing": 0,
          "vconcat": [
            {
              "width": 682,
              "height": 296,
              "title": {"text": "E", "dx": -49, "offset": 10},
              "resolve": {"axis": {"y": "independent"}},
              "layer": [
                {
                  "data": {"name": "coexp"},
                  "transform": [{"filter": "datum.dpi == 30"}],
                  "mark": {"type": "boxplot", "extent": "min-max", "size": 53, "box": {"fill": "white", "stroke": "black", "strokeWidth": 3}, "median": {"color": "black", "thickness": 3, "opacity": 1}, "rule": {"color": "black", "strokeWidth": 3}, "ticks": {"color": "black", "size": 30, "thickness": 3}},
                  "encoding": {
                    "x": {"field": "combo", "type": "nominal", "scale": {"domain": ["+++", "++-", "+-+", "+--", "-++", "-+-", "--+", "---"], "paddingInner": 0, "paddingOuter": 0.16}, "axis": {"title": null, "labels": false, "tickSize": 15, "tickWidth": 4, "domainWidth": 4}},
                    "y": {"field": "value", "type": "quantitative", "scale": {"domain": [0, 100]}, "axis": {"orient": "left", "title": "% Co-expression at 30 dpi", "titleFontSize": 24, "titleFontWeight": "bold", "titlePadding": 56, "values": [0, 20, 40, 60, 80, 100], "labelFontSize": 22, "labelPadding": 3, "tickSize": 16, "tickWidth": 4, "domainWidth": 4}}
                  }
                },
                {
                  "data": {"name": "coexp"},
                  "transform": [{"filter": "datum.dpi == 30"}],
                  "mark": {"type": "point", "shape": "circle", "filled": false, "size": 210, "strokeWidth": 1.6, "color": "black", "opacity": 1},
                  "encoding": {
                    "x": {"field": "combo", "type": "nominal", "scale": {"domain": ["+++", "++-", "+-+", "+--", "-++", "-+-", "--+", "---"], "paddingInner": 0, "paddingOuter": 0.16}, "axis": {"title": null, "labels": false, "tickSize": 15, "tickWidth": 4, "domainWidth": 4}},
                    "xOffset": {"field": "mouse", "type": "nominal", "scale": {"range": [14.3, 67.7]}},
                    "y": {"field": "value", "type": "quantitative", "scale": {"domain": [0, 100]}, "axis": {"orient": "left", "title": "(out of CD8⁺ Teff cells from Spleen)", "titleFontSize": 22, "titleFontWeight": "normal", "titlePadding": 28, "values": [0, 20, 40, 60, 80, 100], "labelFontSize": 22, "labelPadding": 3, "labelOpacity": 0, "tickSize": 16, "tickOpacity": 0, "domain": false}}
                  }
                }
              ]
            },
            {
              "width": 682,
              "height": 64,
              "data": {"name": "markers"},
              "mark": {"type": "text", "fontSize": 18, "fontWeight": "bold"},
              "encoding": {
                "x": {"field": "combo", "type": "nominal", "scale": {"domain": ["+++", "++-", "+-+", "+--", "-++", "-+-", "--+", "---"], "paddingInner": 0, "paddingOuter": 0.16}, "axis": null},
                "y": {"field": "marker", "type": "nominal", "scale": {"domain": ["LAG-3", "PD-1", "TIM-3"], "paddingInner": 0, "paddingOuter": 0}, "axis": {"title": null, "domain": false, "ticks": false, "tickSize": 0, "labelAlign": "left", "labelPadding": 55, "labelFontSize": 18, "labelFontWeight": "normal"}},
                "text": {"field": "state"}
              }
            }
          ]
        }
      ]
    }
  ],
  "config": {
    "view": {"stroke": null},
    "font": "Liberation Sans",
    "axis": {"grid": false, "domainColor": "black", "tickColor": "black", "labelColor": "black", "titleColor": "black", "labelFont": "Liberation Sans", "titleFont": "Liberation Sans", "labelFontWeight": "bold"},
    "title": {"font": "Liberation Sans", "fontSize": 28, "fontWeight": "bold", "anchor": "start", "frame": "bounds", "color": "black"},
    "text": {"font": "Liberation Sans", "color": "black"}
  }
}
